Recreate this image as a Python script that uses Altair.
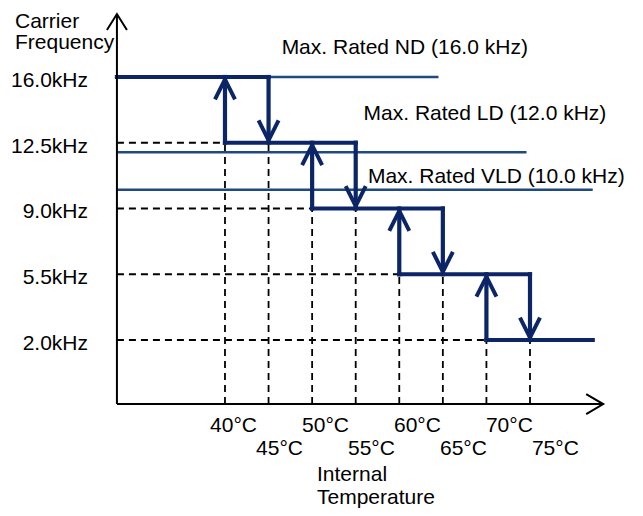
import altair as alt
import pandas as pd

# ---------------- values ----------------
levels = [16.0, 12.5, 9.0, 5.5, 2.0]                 # carrier frequency steps (kHz)
level_labels = ["16.0kHz", "12.5kHz", "9.0kHz", "5.5kHz", "2.0kHz"]
up_temps = [40, 50, 60, 70]                           # °C: frequency restored (up arrow)
down_temps = [45, 55, 65, 75]                         # °C: frequency reduced (down arrow)
up_labels = ["40°C", "50°C", "60°C", "70°C"]
down_labels = ["45°C", "55°C", "65°C", "75°C"]
rated_names = ["Max. Rated ND (16.0 kHz)", "Max. Rated LD (12.0 kHz)", "Max. Rated VLD (10.0 kHz)"]
rated_khz = [16.0, 12.0, 10.0]
rated_line_end = [64.5, 74.6, 82.2]                   # °C where each rated line stops

# ---------------- layout (not data) ----------------
W, H = 627, 500
X_DOM = [15.10, 87.05]
Y_DOM = [-6.943, 19.673]
T_AXIS, F_AXIS = 27.6, -1.41      # axis origin
T_TIP, F_TIP = 83.4, 19.35        # arrow tips of the axes
T_END = 82.2                      # end of the last step
rated_label_at = [46.5, 55.9, 56.4]
rated_label_lift = [1.22, 1.71, 0.36]
NAVY = "#0b2566"
THIN = "#1f4a7f"
FONT = "Liberation Sans"
FS = 21

xs = alt.Scale(domain=X_DOM, nice=False, zero=False)
ys = alt.Scale(domain=Y_DOM, nice=False, zero=False)

# thick step path
thick = []
for k, f in enumerate(levels):
    start = T_AXIS if k == 0 else up_temps[k - 1]
    end = down_temps[k] if k < len(down_temps) else T_END
    thick.append(dict(x=start, x2=end, y=f, y2=f))
for i in range(len(up_temps)):
    thick.append(dict(x=down_temps[i], x2=down_temps[i], y=levels[i], y2=levels[i + 1]))
    thick.append(dict(x=up_temps[i], x2=up_temps[i], y=levels[i + 1], y2=levels[i]))
thick = pd.DataFrame(thick)

# dashed guides
dashed = []
for k in range(1, len(levels)):
    dashed.append(dict(x=T_AXIS, x2=up_temps[k - 1], y=levels[k], y2=levels[k]))
for i in range(len(up_temps)):
    for t in (up_temps[i], down_temps[i]):
        dashed.append(dict(x=t, x2=t, y=F_AXIS, y2=levels[i + 1]))
dashed = pd.DataFrame(dashed)

rated = pd.DataFrame(dict(x=[T_AXIS] * 3, x2=rated_line_end, y=rated_khz, y2=rated_khz,
                          name=rated_names,
                          lx=rated_label_at,
                          ly=[f + d for f, d in zip(rated_khz, rated_label_lift)]))

axes = pd.DataFrame([dict(x=T_AXIS, x2=T_TIP, y=F_AXIS, y2=F_AXIS),
                     dict(x=T_AXIS, x2=T_AXIS, y=F_AXIS, y2=F_TIP)])

ups = pd.DataFrame(dict(x=up_temps, y=levels[:-1]))
downs = pd.DataFrame(dict(x=down_temps, y=levels[1:]))

ylab = pd.DataFrame(dict(y=levels, label=level_labels))
xlab_up = pd.DataFrame(dict(t=up_temps, label=up_labels))
xlab_down = pd.DataFrame(dict(t=down_temps, label=down_labels))


def segs(df, **mark):
    return alt.Chart(df).mark_rule(**mark).encode(
        x=alt.X("x:Q", scale=xs, axis=None),
        x2="x2:Q",
        y=alt.Y("y:Q", scale=ys, axis=None),
        y2="y2:Q",
    )


def heads(df, shape, size, color, sw):
    return alt.Chart(df).mark_point(shape=shape, size=size, filled=False, color=color,
                                    strokeWidth=sw, opacity=1, strokeJoin="miter").encode(
        x=alt.X("x:Q", scale=xs, axis=None),
        y=alt.Y("y:Q", scale=ys, axis=None),
    )


dash_layer = segs(dashed, color="black", strokeWidth=1.8, strokeDash=[7, 5])
thin_layer = segs(rated, color=THIN, strokeWidth=2.5)
thick_layer = segs(thick, color=NAVY, strokeWidth=4.2, strokeCap="square")
axis_layer = segs(axes, color="black", strokeWidth=2)

up_heads = heads(ups, "M -0.5 1.12 L 0 0.12 L 0.5 1.12", 1600, NAVY, 4)
down_heads = heads(downs, "M -0.5 -1.12 L 0 -0.12 L 0.5 -1.12", 1600, NAVY, 4)
yaxis_head = heads(pd.DataFrame(dict(x=[T_AXIS], y=[F_TIP])), "M -0.625 1 L 0 0 L 0.625 1", 1024, "black", 2)
xaxis_head = heads(pd.DataFrame(dict(x=[T_TIP], y=[F_AXIS])), "M -1 -0.59 L 0 0 L -1 0.59", 1156, "black", 2)

rated_text = alt.Chart(rated).mark_text(align="left", baseline="alphabetic", font=FONT,
                                        fontSize=FS, color="black").encode(
    x=alt.X("lx:Q", scale=xs, axis=None),
    y=alt.Y("ly:Q", scale=ys, axis=None),
    text="name:N",
)

ylab_text = alt.Chart(ylab).mark_text(align="right", baseline="alphabetic", font=FONT,
                                      fontSize=FS, color="black", dy=10).encode(
    x=alt.value(80),
    y=alt.Y("y:Q", scale=ys, axis=None),
    text="label:N",
)

# tick labels sit slightly right of their ticks, drifting a little with temperature
shift = "datum.t + (-6.5 + 0.481 * (datum.t - 57.5)) / 8.714"
xlab_up_text = alt.Chart(xlab_up).transform_calculate(lx=shift).mark_text(
    align="left", baseline="alphabetic", font=FONT, fontSize=FS, color="black").encode(
    x=alt.X("lx:Q", scale=xs, axis=None),
    y=alt.value(424),
    text="label:N",
)
xlab_down_text = alt.Chart(xlab_down).transform_calculate(lx=shift).mark_text(
    align="left", baseline="alphabetic", font=FONT, fontSize=FS, color="black").encode(
    x=alt.X("lx:Q", scale=xs, axis=None),
    y=alt.value(447),
    text="label:N",
)

y_title = alt.Chart(pd.DataFrame(dict(text=["Carrier\nFrequency"]))).mark_text(
    align="left", baseline="alphabetic", font=FONT, fontSize=FS, color="black",
    lineBreak="\n", lineHeight=21).encode(
    x=alt.value(7), y=alt.value(20), text="text:N")

x_title = alt.Chart(pd.DataFrame(dict(text=["Internal\nTemperature"]))).mark_text(
    align="left", baseline="alphabetic", font=FONT, fontSize=FS, color="black",
    lineBreak="\n", lineHeight=23).encode(
    x=alt.value(309), y=alt.value(473), text="text:N")

chart = alt.layer(
    dash_layer, thin_layer, thick_layer, up_heads, down_heads,
    axis_layer, yaxis_head, xaxis_head,
    rated_text, ylab_text, xlab_up_text, xlab_down_text, y_title, x_title,
).properties(
    width=W, height=H, padding=0, autosize="none"
).configure_view(stroke=None)

chart.save("out.html", embed_options={"renderer": "svg", "actions": False})
